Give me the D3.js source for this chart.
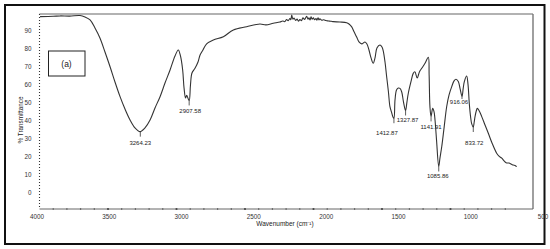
<!DOCTYPE html>
<html><head><meta charset="utf-8">
<script src="https://cdn.jsdelivr.net/npm/d3@7"></script>
<style>body{margin:0;background:#fff}svg{display:block}</style>
</head><body>
<script>
// ---- data ----
const wavenumber = [3996,3900,3850,3780,3704,3668,3631,3595,3558,3522,3485,3449,3412,3376,3339,3303,3266,3230,3193,3157,3120,3084,3047,3011,2987,2971,2955,2945,2934,2926,2914,2907,2898,2887,2865,2843,2828,2807,2780,2731,2658,2585,2488,2391,2347,2294,2245,2225,2210,2196,2185,2172,2165,2159,2150,2142,2130,2120,2110,2099,2088,2077,2065,2050,2040,2033,2025,2018,2010,2001,1992,1982,1975,1967,1960,1953,1940,1925,1909,1890,1870,1855,1807,1758,1741,1721,1705,1685,1668,1648,1624,1610,1595,1580,1564,1551,1537,1515,1500,1491,1478,1466,1453,1442,1431,1420,1413,1405,1394,1381,1369,1356,1343,1328,1318,1308,1289,1272,1260,1243,1227,1210,1186,1162,1156,1150,1142,1130,1120,1113,1102,1086,1077,1064,1047,1028,1011,991,974,960,943,931,916,907,899,882,872,863,854,845,834,827,821,812,804,792,772,748,724,697,663,646,626,609,594,573,558,542,529,517];
const transmittance = [98.0,98.2,98.4,98.3,98.6,97.8,96.2,91.7,86.0,78.3,70.1,61.6,53.4,46.5,40.4,36.0,33.9,36.0,40.4,47.1,53.4,61.0,68.3,76.1,79.4,76.1,68.3,58.3,52.7,54.1,52.1,51.3,59.9,66.6,69.2,72.7,76.6,79.4,82.8,85.0,86.8,90.6,92.4,93.9,93.4,94.3,95.0,95.6,95.2,96.4,95.8,97.0,96.3,98.9,96.6,97.2,95.9,96.6,95.5,96.4,95.8,97.3,96.5,98.2,96.6,97.3,96.1,97.9,96.6,97.4,96.3,96.9,96.0,97.4,96.2,96.8,96.0,96.3,95.8,95.6,95.4,95.2,95.0,94.6,93.9,92.3,89.7,86.7,83.9,82.8,83.9,82.8,79.4,75.0,72.0,75.0,80.5,82.2,81.1,78.9,72.7,64.5,56.0,47.8,44.9,42.1,41.4,51.6,57.1,58.2,58.0,56.0,50.4,45.7,50.4,55.3,61.6,66.4,67.3,63.8,67.2,69.2,72.0,75.4,65.5,47.8,42.4,46.9,44.9,40.4,29.3,14.5,19.2,25.5,36.0,47.8,54.3,59.0,62.2,63.1,61.8,58.2,53.5,58.2,61.8,64.9,60.1,49.7,42.6,38.2,36.5,39.3,42.3,45.4,46.9,45.7,42.3,37.6,33.0,27.6,21.9,20.3,19.1,17.6,16.6,16.4,15.9,15.3,15.1,14.4];
const peakWn = [3264.23,2907.58,1412.87,1327.87,1141.91,1085.86,916.06,833.72];
const peakT = [33.9,51.3,41.4,45.7,42.4,14.5,53.5,36.5];
const peakLabels = ["3264.23","2907.58","1412.87","1327.87","1141.91","1085.86","916.06","833.72"];
const xTicks = [4000,3500,3000,2500,2000,1500,1000,500];
const yTicks = [0,10,20,30,40,50,60,70,80,90];
const panelLabel = "(a)";
const xTitle = "Wavenumber (cm\u207B\u00B9)";
const yTitle = "% Transmittance";

// ---- layout ----
const W = 550, H = 249;
const nudge = [[0,11],[1,10.5],[-7,15],[2,9],[0,10],[-1,9],[-3,5.5],[1,16]];
const svg = d3.select("body").append("svg").attr("width", W).attr("height", H);
const font = "'Liberation Sans', Arial, sans-serif";

svg.append("rect").attr("x",5).attr("y",5).attr("width",539.5).attr("height",239)
  .attr("fill","#fff").attr("stroke","#111").attr("stroke-width",2);

const x = d3.scaleLinear().domain([4000, 500]).range([39.5, 519]);
const xLab = d3.scaleLinear().domain([4000, 500]).range([37, 543]);
const y = d3.scaleLinear().domain([0, 90]).range([192.5, 31]);
const pTop = 14, pBottom = 209, pLeft = 39.5, pRight = 533;

// top and right frame lines
svg.append("line").attr("x1",pLeft).attr("x2",pRight).attr("y1",pTop).attr("y2",pTop)
  .attr("stroke","#999").attr("stroke-width",1.6);
svg.append("line").attr("x1",pRight).attr("x2",pRight).attr("y1",pTop).attr("y2",pBottom)
  .attr("stroke","#777").attr("stroke-width",1.4);

// x axis
const xAxisG = svg.append("g").attr("transform",`translate(0,${pBottom})`)
  .call(d3.axisBottom(x).tickValues(d3.range(4000, 499, -100)).tickSize(0).tickFormat(""));
xAxisG.select(".domain").attr("d",`M${pLeft},0H${pRight}`).attr("stroke","#666").attr("stroke-width",1);
svg.append("g").selectAll("circle").data(d3.range(3900, 500, -100)).join("circle")
  .attr("cx", d => x(d)).attr("cy", pBottom).attr("r", d => d % 500 === 0 ? 1.1 : 0.7).attr("fill","#444");
svg.append("g").selectAll("text").data(xTicks).join("text")
  .attr("x", d => xLab(d)).attr("y", pBottom + 10).attr("text-anchor","middle")
  .attr("font-family",font).attr("font-size",6.3).attr("fill","#333").text(d => d);

// y axis (dotted)
svg.append("line").attr("x1",pLeft).attr("x2",pLeft).attr("y1",pTop).attr("y2",pBottom)
  .attr("stroke","#333").attr("stroke-width",1.1).attr("stroke-dasharray","1,2");
svg.append("g").selectAll("text").data(yTicks).join("text")
  .attr("x", pLeft - 8).attr("y", d => y(d) + 2.2).attr("text-anchor","end")
  .attr("font-family",font).attr("font-size",6.3).attr("fill","#333").text(d => d);

// titles
svg.append("text").attr("x",285).attr("y",226).attr("text-anchor","middle")
  .attr("font-family",font).attr("font-size",6.5).attr("fill","#222").text(xTitle);
svg.append("text").attr("transform","translate(23,120) rotate(-90)").attr("text-anchor","middle")
  .attr("font-family",font).attr("font-size",6.3).attr("fill","#222").text(yTitle);

// panel label box
svg.append("rect").attr("x",48.5).attr("y",51).attr("width",36.5).attr("height",25)
  .attr("fill","none").attr("stroke","#222").attr("stroke-width",1);
svg.append("text").attr("x",66.5).attr("y",66.5).attr("text-anchor","middle")
  .attr("font-family",font).attr("font-size",8.5).attr("fill","#222").text(panelLabel);

// spectrum
const pts = wavenumber.map((w,i) => [w, transmittance[i]]);
svg.append("path").datum(pts)
  .attr("d", d3.line().x(d => x(d[0])).y(d => y(d[1])).curve(d3.curveCatmullRom.alpha(0.5)))
  .attr("fill","none").attr("stroke","#333").attr("stroke-width",1.1).attr("stroke-linejoin","round");

// peak markers
const pk = svg.append("g");
peakWn.forEach((w,i) => {
  const px = x(w), py = y(peakT[i]);
  pk.append("line").attr("x1",px).attr("x2",px).attr("y1",py).attr("y2",py + Math.min(5, nudge[i][1]-3))
    .attr("stroke","#333").attr("stroke-width",0.8);
  pk.append("text").attr("x",px + nudge[i][0]).attr("y",py + nudge[i][1] + 2.2).attr("text-anchor","middle")
    .attr("font-family",font).attr("font-size",6).attr("fill","#222").text(peakLabels[i]);
});
</script>
</body></html>
